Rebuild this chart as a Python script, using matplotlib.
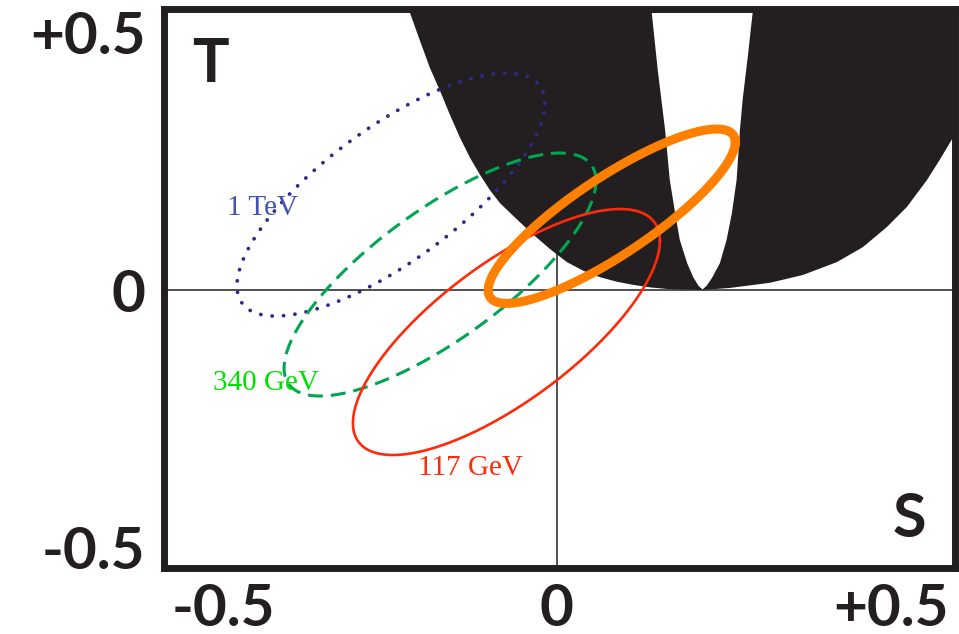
import numpy as np
import matplotlib
matplotlib.use('Agg')
import matplotlib.pyplot as plt

# ---------------- data ----------------
# excluded (black) region: outer boundary, left and right branches
outer_left_S = [-0.232, -0.220, -0.205, -0.190, -0.175, -0.160, -0.145, -0.130, -0.115, -0.100,
                -0.085, -0.060, -0.036, -0.010, 0.015, 0.040, 0.064, 0.090, 0.114, 0.140, 0.165, 0.217]
outer_left_T = [0.600, 0.537, 0.483, 0.430, 0.386, 0.339, 0.295, 0.256, 0.223, 0.193,
                0.168, 0.137, 0.108, 0.079, 0.054, 0.037, 0.025, 0.016, 0.010, 0.005, 0.002, 0.000]
outer_right_S = [0.217, 0.259, 0.319, 0.368, 0.419, 0.458, 0.494, 0.524, 0.554, 0.573, 0.591, 0.625]
outer_right_T = [0.000, 0.004, 0.014, 0.029, 0.054, 0.083, 0.122, 0.161, 0.213, 0.252, 0.291, 0.370]
# allowed (white) wedge inside the black region
wedge_left_S = [0.138, 0.142, 0.151, 0.162, 0.169, 0.177, 0.184, 0.195, 0.204, 0.212, 0.218]
wedge_left_T = [0.600, 0.537, 0.426, 0.310, 0.213, 0.149, 0.097, 0.052, 0.025, 0.008, 0.001]
wedge_right_S = [0.218, 0.224, 0.232, 0.244, 0.254, 0.262, 0.269, 0.274, 0.278, 0.286, 0.293, 0.297]
wedge_right_T = [0.001, 0.008, 0.023, 0.052, 0.097, 0.149, 0.213, 0.310, 0.368, 0.455, 0.537, 0.600]

# ellipses: 1 TeV, 340 GeV, 117 GeV, measured (orange)
ell_S0 = [-0.2485, -0.175, -0.0756, 0.082]
ell_T0 = [0.185, 0.030, -0.0814, 0.143]
ell_dS = [0.2305, 0.2335, 0.2298, 0.185]
ell_dT = [0.2355, 0.2355, 0.2384, 0.169]
ell_rho = [0.75, 0.77, 0.74, 0.85]

label_text = ['1 TeV', '340 GeV', '117 GeV']
label_S = [-0.494, -0.515, -0.208]
label_T = [0.159, -0.180, -0.345]

xtick_vals = [-0.5, 0, 0.5]
xtick_labels = ['-0.5', '0', '+0.5']
ytick_vals = [-0.5, 0, 0.5]
ytick_labels = ['-0.5', '0', '+0.5']

# ---------------- drawing ----------------
BLACK = '#231f20'
W, H = 959, 634
fig = plt.figure(figsize=(W / 100, H / 100), dpi=100)
ax = fig.add_axes([163.5 / W, (H - 567.5) / H, (955 - 163.5) / W, (567.5 - 9) / H])
ax.set_xlim(-0.589, 0.596)
ax.set_ylim(-0.5378, 0.5446)

ax.axhline(0, color=BLACK, lw=1.1, zorder=1)
ax.axvline(0, color=BLACK, lw=1.1, zorder=1)

# black excluded region
poly_S = outer_left_S + outer_right_S[1:] + [0.7, 0.7, outer_left_S[0]]
poly_T = outer_left_T + outer_right_T[1:] + [outer_right_T[-1], 0.7, 0.7]
ax.fill(poly_S, poly_T, color=BLACK, lw=0, zorder=2)
ax.fill(wedge_left_S + wedge_right_S[1:], wedge_left_T + wedge_right_T[1:],
        color='white', lw=0, zorder=3)

t = np.linspace(0, 2 * np.pi, 400)
styles = [
    dict(color='#2e2a8c', lw=2.7, linestyle=(0, (0.05, 3.0)), dash_capstyle='round'),
    dict(color='#00a651', lw=2.2, linestyle=(0, (4.9, 2.6))),
    dict(color='#ff2a0a', lw=1.9, linestyle='-'),
    dict(color='#ff8000', lw=6.5, linestyle='-'),
]
for i in range(4):
    S = ell_S0[i] + ell_dS[i] * np.cos(t)
    T = ell_T0[i] + ell_dT[i] * (ell_rho[i] * np.cos(t) + np.sqrt(1 - ell_rho[i] ** 2) * np.sin(t))
    ax.plot(S, T, zorder=4 + i, **styles[i])

label_colors = ['#4352b0', '#00e000', '#ff2a0a']
for txt, s, tt, c in zip(label_text, label_S, label_T, label_colors):
    ax.text(s, tt, txt, color=c, fontsize=21, family='Liberation Serif',
            ha='left', va='center', zorder=10)

# axis letters
ax.text((210 - 163.5) / (955 - 163.5), 1 - (64 - 9) / (567.5 - 9), 'T',
        transform=ax.transAxes, fontsize=44, fontweight='bold', family='Lato',
        ha='center', va='center', color=BLACK)
ax.text((909 - 163.5) / (955 - 163.5), 1 - (519 - 9) / (567.5 - 9), 'S',
        transform=ax.transAxes, fontsize=44, fontweight='bold', family='Lato',
        ha='center', va='center', color=BLACK)

ax.set_xticks(xtick_vals, xtick_labels)
ax.set_yticks(ytick_vals, ytick_labels)
ax.tick_params(length=0, labelsize=42, colors=BLACK, pad=13)
ax.tick_params(axis='x', pad=11)
for lab in ax.get_xticklabels() + ax.get_yticklabels():
    lab.set_fontweight('bold')
    lab.set_family('Lato')
for sp in ax.spines.values():
    sp.set_linewidth(5.0)
    sp.set_color(BLACK)
    sp.set_zorder(20)

fig.savefig('out.png', dpi=100)
